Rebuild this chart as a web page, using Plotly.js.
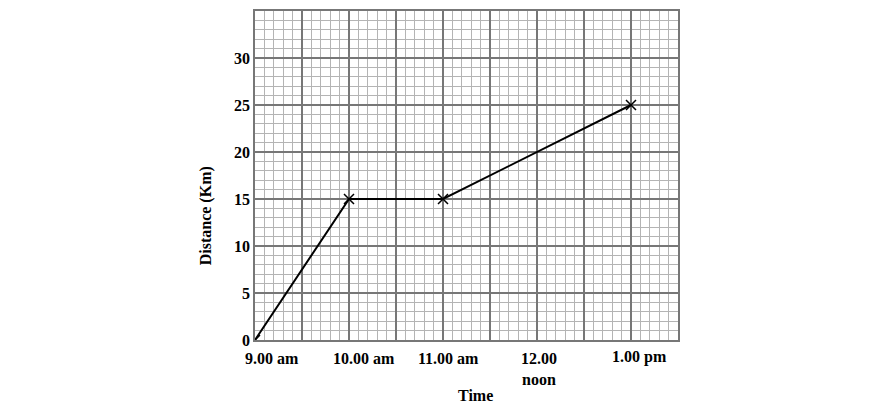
<!DOCTYPE html>
<html>
<head>
<meta charset="utf-8">
<script src="https://cdn.plot.ly/plotly-3.0.1.min.js"></script>
<style>html,body{margin:0;padding:0;background:#fff;}#chart{width:875px;height:409px;}</style>
</head>
<body>
<div id="chart"></div>
<script>
// Data
const times = [9, 10, 11, 13];          // hours (13 = 1.00 pm)
const distances = [0, 15, 15, 25];      // km
const hourTicks = [9, 10, 11, 12, 13];
const hourLabels = ["9.00 am", "10.00 am", "11.00 am", "12.00<br>noon", "1.00 pm"];
const yTickVals = [0, 5, 10, 15, 20, 25, 30, 35];
const yTickText = ["0", "5", "10", "15", "20", "25", "30", ""];

const labelShift = [17, 15, 5, 2, 8];
const labelFont = {family: "Liberation Serif", size: 16, color: "#000"};

const annotations = hourTicks.map((h, i) => ({
  x: h, xref: "x", y: 0, yref: "paper",
  yshift: i === 4 ? -6 : -8, yanchor: "top",
  xshift: labelShift[i], showarrow: false,
  text: "<b>" + hourLabels[i] + "</b>", font: labelFont, align: "center"
}));
annotations.push({
  x: 0.522, xref: "paper", y: 0, yref: "paper", yanchor: "middle", yshift: -55,
  showarrow: false, text: "<b>Time</b>", font: labelFont
});
annotations.push({
  x: 0, xref: "paper", xshift: -60, y: 0.376, yref: "paper",
  textangle: -90, showarrow: false, text: "<b>Distance (Km)</b>", font: labelFont
});

const data = [{
  x: times, y: distances, type: "scatter", mode: "lines+markers",
  line: {color: "#000", width: 2},
  marker: {symbol: "x-thin-open", size: 10, line: {color: "#000", width: 1.5}, color: "#000"},
  hoverinfo: "skip", showlegend: false
}, {
  x: [9, 13.5], y: [0, 35], xaxis: "x2", yaxis: "y2", mode: "none",
  type: "scatter", hoverinfo: "skip", showlegend: false
}];

const layout = {
  width: 875, height: 409,
  margin: {l: 255, r: 197, t: 11, b: 69},
  paper_bgcolor: "#fff", plot_bgcolor: "#fff",
  showlegend: false,
  xaxis: {
    range: [9, 13.5], tickmode: "linear", tick0: 9, dtick: 0.1,
    showticklabels: false, ticks: "",
    showgrid: true, gridcolor: "#b4b4b4", gridwidth: 1,
    zeroline: false, showline: true, linecolor: "#777", linewidth: 2, mirror: true
  },
  yaxis: {
    range: [0, 35], tickmode: "linear", tick0: 0, dtick: 1,
    showticklabels: false, ticks: "",
    showgrid: true, gridcolor: "#b4b4b4", gridwidth: 1,
    zeroline: false, showline: true, linecolor: "#777", linewidth: 2, mirror: true
  },
  xaxis2: {
    overlaying: "x", range: [9, 13.5], tickmode: "linear", tick0: 9, dtick: 0.5,
    showticklabels: false, ticks: "",
    showgrid: true, gridcolor: "#777", gridwidth: 2, zeroline: false
  },
  yaxis2: {
    overlaying: "y", side: "left", range: [0, 35], tickmode: "array", tickvals: yTickVals,
    ticktext: yTickText.map(t => t ? "<b>" + t + "</b>" : ""),
    tickfont: labelFont, ticks: "", ticklabelstandoff: 4,
    showgrid: true, gridcolor: "#777", gridwidth: 2, zeroline: false
  },
  annotations: annotations
};

Plotly.newPlot("chart", data, layout, {staticPlot: true, displayModeBar: false});
</script>
</body>
</html>
